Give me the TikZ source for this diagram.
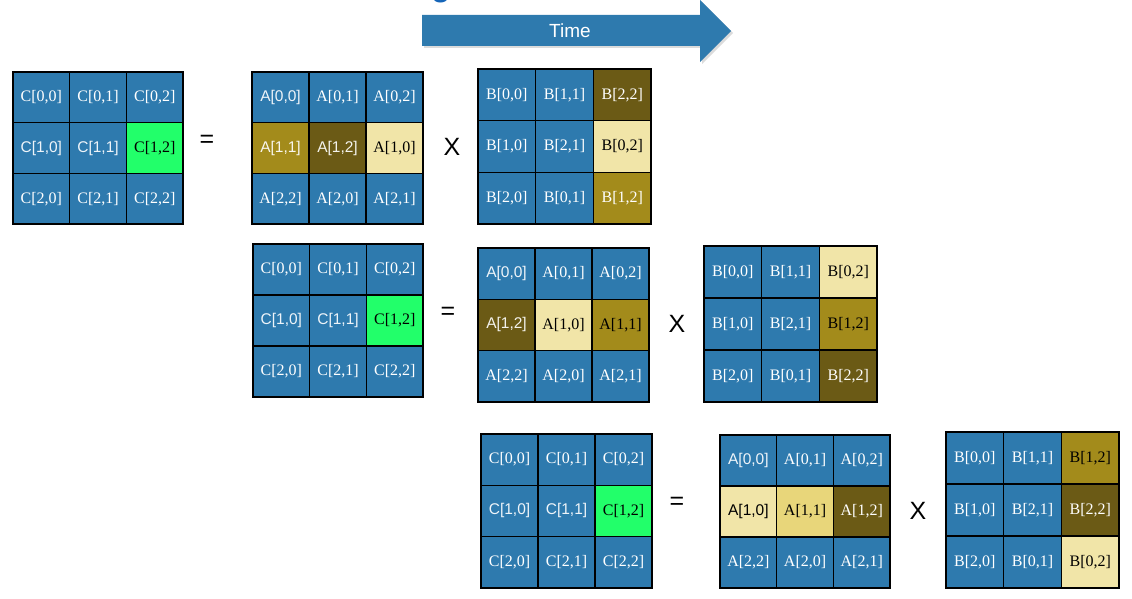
\documentclass[tikz,border=0pt]{standalone}
\usepackage{fontspec}
\setmainfont{Liberation Serif}
\newfontfamily\sansf{Liberation Sans}
\definecolor{cblue}{HTML}{2E7AAE}
\definecolor{cgreen}{HTML}{22FF6A}
\definecolor{cdark}{HTML}{6B5A15}
\definecolor{cmid}{HTML}{A38B1B}
\definecolor{clight}{HTML}{F1E5A8}
\definecolor{cgold}{HTML}{E8D67A}
\definecolor{ctitle}{HTML}{1565B8}
% #1 name, #2 left, #3 top, #4 cell w, #5 cell h, #6 letter, #7 entries r/c/i/j/style
\newcommand\mygrid[7]{%
  \foreach \r/\c/\ii/\jj/\sty in {#7} {%
    \node[cell, minimum width=#4pt, minimum height=#5pt, \sty] (#1-\r\c)
      at ({#2+(\c+0.5)*#4}, {#3+(\r+0.5)*#5}) {#6[\ii,\jj]};
  }%
}
\begin{document}
\begin{tikzpicture}[x=1pt,y=-1pt,
  cell/.style={draw=black, line width=1.3pt, inner sep=0pt, font=\fontsize{16}{18}\selectfont},
  bb/.style={fill=cblue, text=white},
  bs/.style={fill=cblue, text=white!92!cblue, font=\fontsize{15.5}{18}\sansf},
  gg/.style={fill=cgreen, text=black},
  dk/.style={fill=cdark, text=white},
  dks/.style={fill=cdark, text=white!92!cdark, font=\fontsize{15.5}{18}\sansf},
  md/.style={fill=cmid, text=white},
  mds/.style={fill=cmid, text=white!92!cmid, font=\fontsize{15.5}{18}\sansf},
  mdk/.style={fill=cmid, text=black},
  lt/.style={fill=clight, text=black},
  lts/.style={fill=clight, text=black, font=\fontsize{15.5}{18}\sansf},
  gd/.style={fill=cgold, text=black},
  op/.style={font=\fontsize{25}{28}\sansf, inner sep=0pt}]
\useasboundingbox (0,0) rectangle (1132,599);
% title fragment
\node[anchor=base, text=ctitle, font=\fontsize{36}{40}\sansf, inner sep=0pt] (title) at (441,-4) {g};
% time arrow
\fill[black!14] (424,17) -- (702,17) -- (702,2) -- (733,33) -- (702,64) -- (702,48) -- (424,48) -- cycle;
\fill[cblue] (422,15) -- (700,15) -- (700,0) -- (731,31) -- (700,62) -- (700,46) -- (422,46) -- cycle;
\node[text=white, font=\fontsize{19}{22}\sansf] (time) at (570,31) {Time};
% row 1
\mygrid{c1}{13}{72}{56.7}{50.7}{C}{0/0/0/0/bb,0/1/0/1/bb,0/2/0/2/bb,1/0/1/0/bs,1/1/1/1/bs,1/2/1/2/gg,2/0/2/0/bb,2/1/2/1/bb,2/2/2/2/bb}
\node[op] (eq1) at (207,141) {=};
\mygrid{a1}{252}{72}{57}{50.7}{A}{0/0/0/0/bs,0/1/0/1/bb,0/2/0/2/bb,1/0/1/1/mds,1/1/1/2/dks,1/2/1/0/lt,2/0/2/2/bb,2/1/2/0/bb,2/2/2/1/bb}
\node[op] (x1) at (452,147) {X};
\mygrid{b1}{478}{69}{57.7}{51.7}{B}{0/0/0/0/bb,0/1/1/1/bb,0/2/2/2/dk,1/0/1/0/bb,1/1/2/1/bb,1/2/0/2/lt,2/0/2/0/bb,2/1/0/1/bb,2/2/1/2/md}
% row 2
\mygrid{c2}{253}{244}{56.7}{51}{C}{0/0/0/0/bb,0/1/0/1/bb,0/2/0/2/bb,1/0/1/0/bs,1/1/1/1/bs,1/2/1/2/gg,2/0/2/0/bb,2/1/2/1/bb,2/2/2/2/bb}
\node[op] (eq2) at (448,313) {=};
\mygrid{a2}{478}{248}{57}{51.3}{A}{0/0/0/0/bs,0/1/0/1/bb,0/2/0/2/bb,1/0/1/2/dks,1/1/1/0/lt,1/2/1/1/mdk,2/0/2/2/bb,2/1/2/0/bb,2/2/2/1/bb}
\node[op] (x2) at (677,324) {X};
\mygrid{b2}{704}{246}{57.7}{52}{B}{0/0/0/0/bb,0/1/1/1/bb,0/2/0/2/lt,1/0/1/0/bb,1/1/2/1/bb,1/2/1/2/mdk,2/0/2/0/bb,2/1/0/1/bb,2/2/2/2/dk}
% row 3
\mygrid{c3}{481}{434}{57}{51.3}{C}{0/0/0/0/bb,0/1/0/1/bb,0/2/0/2/bb,1/0/1/0/bs,1/1/1/1/bs,1/2/1/2/gg,2/0/2/0/bb,2/1/2/1/bb,2/2/2/2/bb}
\node[op] (eq3) at (677,503) {=};
\mygrid{a3}{720}{435}{56.7}{51}{A}{0/0/0/0/bs,0/1/0/1/bb,0/2/0/2/bb,1/0/1/0/lts,1/1/1/1/gd,1/2/1/2/dk,2/0/2/2/bb,2/1/2/0/bb,2/2/2/1/bb}
\node[op] (x3) at (918,511) {X};
\mygrid{b3}{946}{432}{57.7}{52}{B}{0/0/0/0/bb,0/1/1/1/bb,0/2/1/2/mdk,1/0/1/0/bb,1/1/2/1/bb,1/2/2/2/dk,2/0/2/0/bb,2/1/0/1/bb,2/2/0/2/lt}
\end{tikzpicture}
\end{document}
